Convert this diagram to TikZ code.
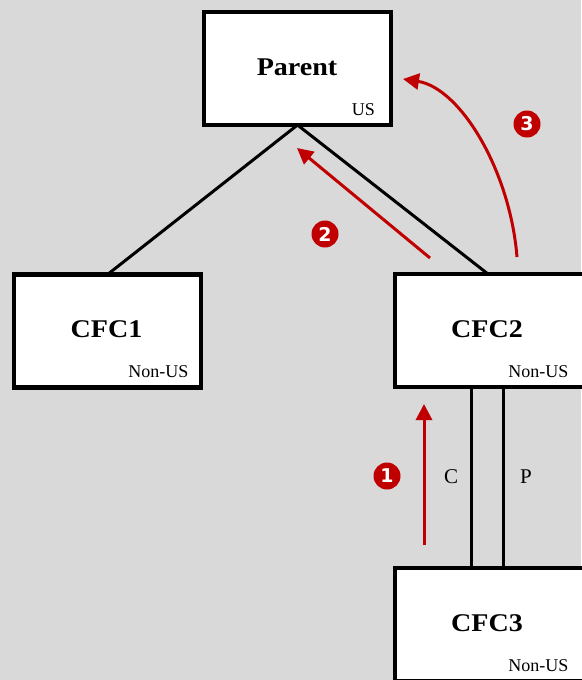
\documentclass[tikz,border=0pt]{standalone}
\usepackage{fontspec}
\usetikzlibrary{arrows.meta,calc}
\setmainfont{Liberation Serif}
\newfontfamily\titlefont[FakeStretch=1.1]{Liberation Serif}
\newfontfamily\badgefont{DejaVu Sans}
\definecolor{canvas}{HTML}{D9D9D9}
\definecolor{flow}{HTML}{C00000}
\tikzset{
  entity/.style={draw=black, fill=white, line width=4.5pt, rectangle,
                 minimum width=#1, minimum height=113pt, inner sep=0pt, outer sep=0pt},
  entity/.default=187pt,
  title/.style={anchor=base, font=\titlefont\bfseries\fontsize{25.5}{28}\selectfont, inner sep=0pt},
  juris/.style={anchor=base east, font=\fontsize{18}{20}\selectfont, inner sep=0pt},
  tie/.style={draw=black, line width=3pt},
  flowarrow/.style={draw=flow, line width=3pt, -{Triangle[length=16pt,width=16pt]}},
  badge/.style={circle, fill=flow, text=white, minimum size=27pt, inner sep=0pt,
                font=\badgefont\bfseries\fontsize{19}{20}\selectfont},
  share/.style={anchor=base, font=\fontsize{21}{24}\selectfont, inner sep=0pt}
}
\begin{document}
\begin{tikzpicture}[x=1pt, y=-1pt]
  \fill[canvas] (0,0) rectangle (581,680);
  \useasboundingbox (0,0) rectangle (581,680);

  % entity boxes
  \node[entity] (parent) at (297.5,68.5) {};
  \node[entity] (cfc1)   at (107.5,331) {};
  \node[entity=192pt] (cfc2) at (491,330.5) {};
  \node[entity=192pt] (cfc3) at (491,624.5) {};

  % ownership lines
  \draw[tie] (parent.south) -- (cfc1.north);
  \draw[tie] (parent.south) -- ($(cfc2.north)+(-3,0)$);
  \draw[tie] ($(cfc2.south)+(-19.5,0)$) -- ($(cfc3.north)+(-19.5,0)$);
  \draw[tie] ($(cfc2.south)+(12.5,0)$) -- ($(cfc3.north)+(12.5,0)$);

  % box titles and jurisdictions
  \node[title] (tparent) at (297,75) {Parent};
  \node[title] (tcfc1) at (106.5,337) {CFC1};
  \node[title] (tcfc2) at (487,337) {CFC2};
  \node[title] (tcfc3) at (487,631) {CFC3};
  \node[juris] (jparent) at (375,115) {US};
  \node[juris] (jcfc1) at (188.5,377) {Non-US};
  \node[juris] (jcfc2) at (568.5,377) {Non-US};
  \node[juris] (jcfc3) at (568.5,671) {Non-US};

  % interest labels
  \node[share] (lc) at (451,483.5) {C};
  \node[share] (lp) at (526,483.5) {P};

  % income flows
  \coordinate (f1s) at (424,545);
  \coordinate (f1e) at (424,404);
  \coordinate (f2s) at (430,258);
  \coordinate (f2e) at (297,148);
  \coordinate (f3s) at (517,257);
  \coordinate (f3e) at (403,79);
  \draw[flowarrow] (f1s) -- (f1e);
  \draw[flowarrow] (f2s) -- (f2e);
  \draw[flowarrow] (f3s) .. controls (510,170) and (460,88) .. (f3e);

  % step badges
  \node[badge] (b1) at (387,476) {1};
  \node[badge] (b2) at (325,234) {2};
  \node[badge] (b3) at (527,124) {3};
\end{tikzpicture}
\end{document}
